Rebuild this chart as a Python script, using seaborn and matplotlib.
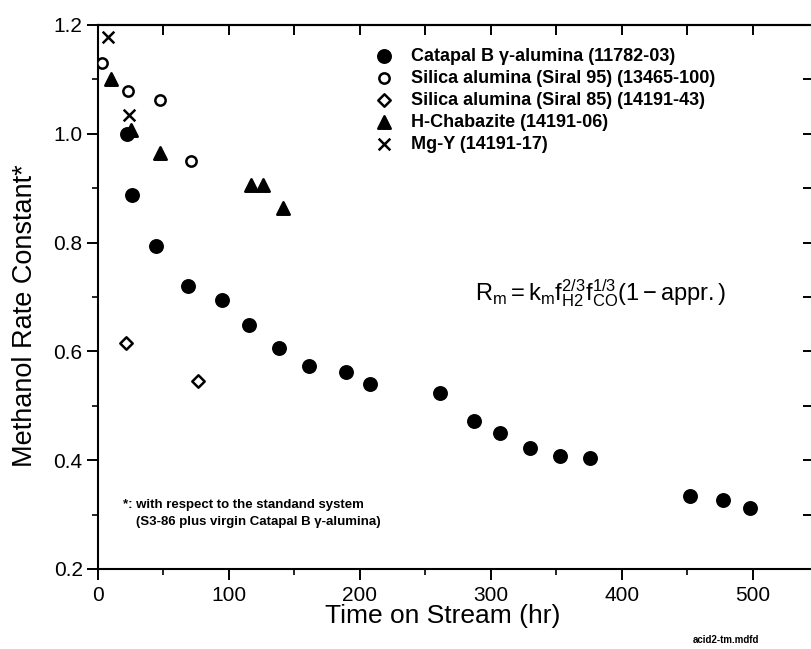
import matplotlib
matplotlib.use('Agg')
import matplotlib.pyplot as plt
import seaborn as sns

# methanol rate constant vs time on stream
catapal_hr = [22, 26, 44, 69, 95, 115, 138, 161, 189, 208, 261, 287, 307, 330, 353, 376, 452, 477, 498]
catapal_k = [1.000, 0.888, 0.793, 0.721, 0.694, 0.649, 0.606, 0.574, 0.563, 0.540,
             0.524, 0.472, 0.450, 0.423, 0.407, 0.404, 0.335, 0.326, 0.313]
siral95_hr = [3, 23, 47, 71]
siral95_k = [1.131, 1.079, 1.062, 0.950]
siral85_hr = [21, 76]
siral85_k = [0.616, 0.545]
chabazite_hr = [10, 25, 47, 117, 126, 141]
chabazite_k = [1.101, 1.007, 0.964, 0.906, 0.906, 0.863]
mgy_hr = [8, 24]
mgy_k = [1.178, 1.034]

labels = ['Catapal B γ-alumina (11782-03)',
          'Silica alumina (Siral 95) (13465-100)',
          'Silica alumina (Siral 85) (14191-43)',
          'H-Chabazite (14191-06)',
          'Mg-Y (14191-17)']

sns.set_style('ticks')
plt.rcParams['font.family'] = ['Liberation Sans', 'DejaVu Sans']
plt.rcParams['mathtext.fontset'] = 'custom'
plt.rcParams['mathtext.rm'] = 'Liberation Sans'
plt.rcParams['mathtext.it'] = 'Liberation Sans'
for k in ['text.color', 'axes.labelcolor', 'xtick.color', 'ytick.color', 'axes.edgecolor']:
    plt.rcParams[k] = 'black'

fig = plt.figure(figsize=(8.11, 6.49), dpi=100)
ax = fig.add_axes([98 / 811, 80 / 649, 715 / 811, 544 / 649])

series = [
    (catapal_hr, catapal_k, 'o', 'black', 80),
    (siral95_hr, siral95_k, 'o', 'white', 55),
    (siral85_hr, siral85_k, 'D', 'white', 40),
    (chabazite_hr, chabazite_k, '^', 'black', 80),
    (mgy_hr, mgy_k, 'x', 'black', 70),
]
for (xs, ys, mk, fc, sz), lab in zip(series, labels):
    sns.scatterplot(x=xs, y=ys, marker=mk, s=sz, color=fc, edgecolor='black',
                    linewidth=1.8, label=lab, ax=ax, legend=False, zorder=3)

ax.set_xlim(0, 546)
ax.set_ylim(0.2, 1.2)
ax.set_xticks([0, 100, 200, 300, 400, 500])
ax.set_xticks([50, 150, 250, 350, 450], minor=True)
ax.set_yticks([0.2, 0.4, 0.6, 0.8, 1.0, 1.2])
ax.set_yticklabels(['0.2', '0.4', '0.6', '0.8', '1.0', '1.2'])
ax.set_yticks([0.3, 0.5, 0.7, 0.9, 1.1], minor=True)

for s in ax.spines.values():
    s.set_linewidth(1.5)
    s.set_visible(True)

ax.tick_params(which='major', direction='out', length=8, width=1.4, labelsize=15, pad=3)
ax.tick_params(which='minor', direction='out', length=4, width=1.2)
ax.tick_params(axis='x', which='major', pad=4)

# top and right ticks point inward
top = ax.secondary_xaxis('top')
top.set_xticks([0, 100, 200, 300, 400, 500])
top.set_xticks([50, 150, 250, 350, 450], minor=True)
top.tick_params(which='both', direction='in', length=7, width=1.4, labeltop=False)
top.spines['top'].set_linewidth(1.5)
right = ax.secondary_yaxis('right')
right.set_yticks([0.2, 0.4, 0.6, 0.8, 1.0, 1.2])
right.set_yticks([0.3, 0.5, 0.7, 0.9, 1.1], minor=True)
right.tick_params(which='both', direction='in', length=7, width=1.4, labelright=False)

ax.set_xlabel('Time on Stream (hr)', fontsize=19)
ax.xaxis.set_label_coords(0.4825, -47 / 544)
ax.xaxis.label.set_va('center')
ax.set_ylabel('Methanol Rate Constant*', fontsize=19.5)
ax.yaxis.set_label_coords(-73 / 715, 0.465)
ax.yaxis.label.set_va('center')

ax.legend(loc='upper left', bbox_to_anchor=(375 / 811, 1 - 48 / 649),
          bbox_transform=fig.transFigure, frameon=False,
          prop={'weight': 'bold', 'size': 13}, handlelength=1.0,
          handletextpad=1.0, labelspacing=0.28, borderpad=0, borderaxespad=0)

ax.text(0.527, 0.4945,
        r'$\mathregular{R_m = k_m f_{H2}^{2/3} f_{CO}^{1/3}(1-appr.)}$',
        transform=ax.transAxes, fontsize=17, va='baseline', ha='left')

fig.text(123 / 811, 1 - 505 / 649, '*: with respect to the standand system',
         fontsize=9.5, fontweight='bold', va='center')
fig.text(136 / 811, 1 - 522 / 649, '(S3-86 plus virgin Catapal B γ-alumina)',
         fontsize=9.5, fontweight='bold', va='center')
fig.text(693 / 811, 1 - 640 / 649, 'acid2-tm.mdfd', fontsize=7, fontweight='bold', va='center')

fig.savefig('out.png', dpi=100)
